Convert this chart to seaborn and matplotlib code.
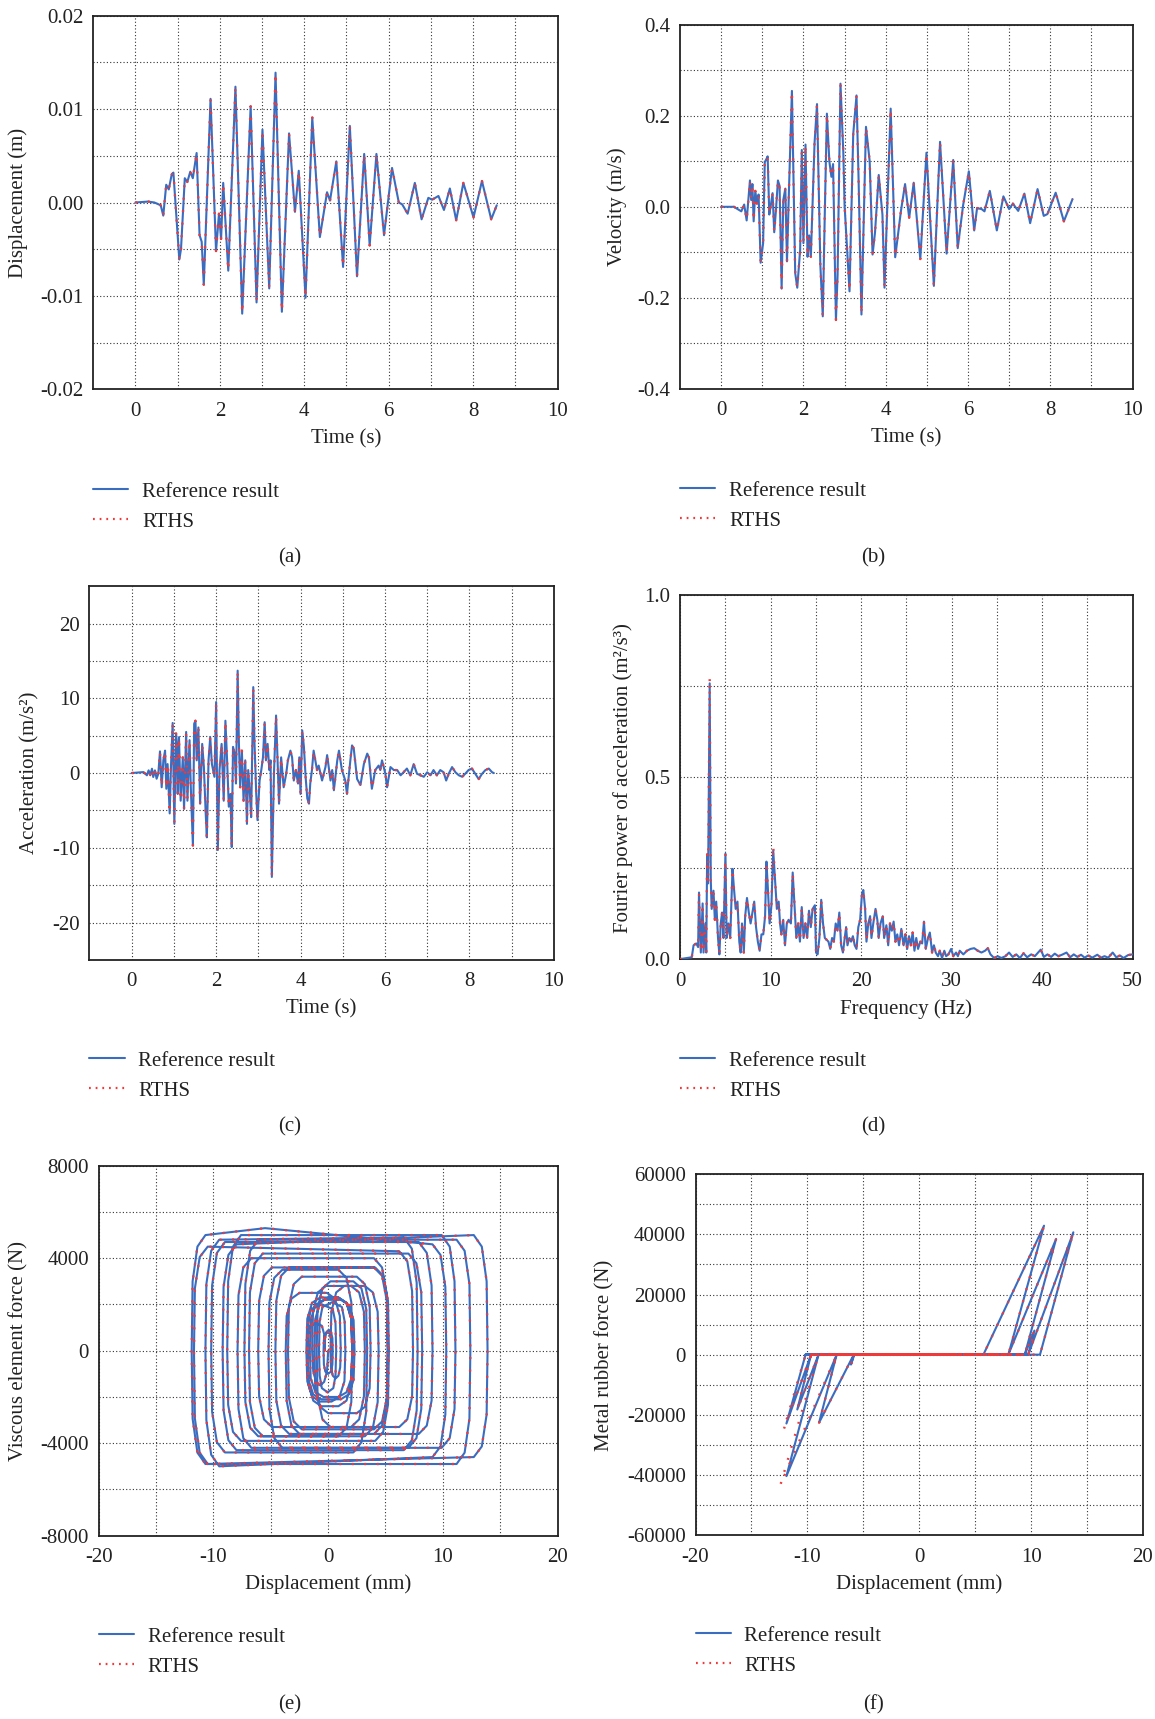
import matplotlib
matplotlib.use("Agg")
import matplotlib.pyplot as plt
from matplotlib.lines import Line2D
import pandas as pd
import seaborn as sns

# ---------------- data ----------------
# (a) displacement history: (time s, displacement m)
disp = [
    (0.00, 0.0), (0.30, 0.0001), (0.45, 0.0), (0.60, -0.0003), (0.66, -0.0014),
    (0.73, 0.0019), (0.79, 0.0014), (0.86, 0.0030), (0.90, 0.0032), (1.04, -0.0061),
    (1.08, -0.0050), (1.17, 0.0026), (1.23, 0.0022), (1.30, 0.0033), (1.36, 0.0026),
    (1.45, 0.0053), (1.52, -0.0035), (1.57, -0.0042), (1.62, -0.0088), (1.78, 0.0111),
    (1.91, -0.0052), (1.98, -0.0012), (2.03, -0.0039), (2.08, 0.0021), (2.20, -0.0073),
    (2.37, 0.0124), (2.53, -0.0119), (2.73, 0.0103), (2.87, -0.0107), (3.01, 0.0078),
    (3.17, -0.0092), (3.32, 0.0139), (3.47, -0.0117), (3.64, 0.0074), (3.78, -0.0010),
    (3.87, 0.0034), (4.03, -0.0102), (4.19, 0.0091), (4.37, -0.0037), (4.54, 0.0011),
    (4.61, 0.0002), (4.76, 0.0044), (4.92, -0.0069), (5.08, 0.0082), (5.25, -0.0079),
    (5.42, 0.0052), (5.55, -0.0046), (5.71, 0.0052), (5.89, -0.0035), (6.08, 0.0037),
    (6.24, 0.0000), (6.32, -0.0002), (6.45, -0.0012), (6.62, 0.0021), (6.78, -0.0018),
    (6.94, 0.0005), (7.03, 0.0003), (7.18, 0.0007), (7.31, -0.0008), (7.45, 0.0015),
    (7.60, -0.0019), (7.77, 0.0021), (8.01, -0.0016), (8.21, 0.0023), (8.43, -0.0018),
    (8.56, -0.0003),
]

# (b) velocity history: (time s, velocity m/s)
vel = [
    (0.00, 0.000), (0.31, 0.000), (0.40, -0.005), (0.49, -0.010), (0.56, 0.005),
    (0.62, -0.030), (0.70, 0.058), (0.73, 0.015), (0.76, 0.050), (0.79, -0.032),
    (0.83, 0.035), (0.87, 0.007), (0.91, 0.027), (0.96, -0.123), (1.02, -0.080),
    (1.06, 0.098), (1.10, 0.105), (1.13, 0.111), (1.17, -0.017), (1.20, -0.001),
    (1.25, 0.030), (1.29, -0.056), (1.33, -0.010), (1.38, 0.058), (1.42, 0.046),
    (1.47, -0.180), (1.51, 0.015), (1.56, 0.040), (1.60, -0.120), (1.65, 0.042),
    (1.72, 0.255), (1.80, -0.146), (1.85, -0.178), (1.92, -0.095), (1.96, 0.125),
    (2.00, -0.080), (2.05, 0.137), (2.10, -0.110), (2.14, -0.063), (2.18, -0.110),
    (2.27, 0.140), (2.33, 0.226), (2.41, -0.126), (2.47, -0.241), (2.52, -0.010),
    (2.57, 0.205), (2.63, 0.100), (2.68, 0.066), (2.72, 0.094), (2.79, -0.249),
    (2.83, -0.150), (2.90, 0.271), (2.97, 0.117), (3.00, 0.003), (3.12, -0.186),
    (3.21, 0.160), (3.29, 0.245), (3.34, 0.062), (3.41, -0.237), (3.52, 0.176),
    (3.61, 0.100), (3.68, -0.105), (3.74, -0.056), (3.83, 0.070), (3.92, -0.017),
    (3.97, -0.178), (4.12, 0.216), (4.23, -0.111), (4.37, -0.009), (4.47, 0.050),
    (4.57, -0.024), (4.68, 0.053), (4.84, -0.115), (4.99, 0.119), (5.17, -0.174),
    (5.32, 0.143), (5.48, -0.103), (5.64, 0.103), (5.75, -0.091), (5.88, 0.003),
    (6.02, 0.078), (6.15, -0.052), (6.22, -0.003), (6.33, -0.005), (6.40, -0.010),
    (6.53, 0.035), (6.70, -0.052), (6.86, 0.023), (7.00, -0.005), (7.09, 0.007),
    (7.22, -0.009), (7.37, 0.029), (7.51, -0.036), (7.69, 0.039), (7.84, -0.020),
    (7.93, -0.016), (8.13, 0.031), (8.33, -0.032), (8.54, 0.017),
]

# (c) acceleration history: (time s, acceleration m/s^2)
accel = [
    (0.00, 0.0), (0.28, 0.13), (0.36, -0.3), (0.40, 0.36), (0.44, -0.3), (0.48, 0.58),
    (0.51, -0.53), (0.55, 0.36), (0.59, -0.76), (0.63, -0.09), (0.67, 2.9), (0.71, -1.9),
    (0.75, 1.7), (0.79, 3.0), (0.82, -2.1), (0.85, 1.2), (0.90, -5.4), (0.93, 0.8),
    (0.97, 6.7), (1.01, -6.8), (1.05, 5.3), (1.07, 3.9), (1.09, -2.8), (1.12, 4.8),
    (1.16, -3.7), (1.21, 2.1), (1.24, -4.8), (1.29, 5.5), (1.32, -3.7), (1.37, 4.4),
    (1.40, -1.9), (1.45, -9.7), (1.48, 6.6), (1.51, 7.0), (1.54, 1.7), (1.58, 6.1),
    (1.62, -4.1), (1.67, 3.9), (1.71, 0.8), (1.75, -5.0), (1.78, -8.6), (1.82, 1.7),
    (1.86, 4.8), (1.90, 1.2), (1.96, -0.5), (2.00, 9.5), (2.04, -10.3), (2.08, 0.4),
    (2.13, 3.9), (2.18, -3.7), (2.22, 7.0), (2.26, 1.7), (2.30, -4.5), (2.34, -2.8),
    (2.37, -9.9), (2.40, 3.5), (2.44, 2.6), (2.47, -1.4), (2.51, 13.7), (2.54, 3.9),
    (2.57, -1.9), (2.61, 3.0), (2.65, -3.7), (2.69, 1.7), (2.73, -6.8), (2.76, 0.4),
    (2.80, -2.8), (2.83, -5.9), (2.88, 11.5), (2.91, 3.9), (2.95, -2.8), (2.98, -6.3),
    (3.03, -1.0), (3.07, 0.4), (3.11, 2.1), (3.15, 6.8), (3.18, 1.7), (3.22, 3.9),
    (3.26, 0.4), (3.29, 1.7), (3.32, -13.9), (3.37, -0.1), (3.42, 7.7), (3.49, -4.1),
    (3.54, 2.1), (3.60, -1.9), (3.66, -0.1), (3.70, 1.7), (3.76, 3.0), (3.80, 2.1),
    (3.84, -1.0), (3.89, 0.4), (3.94, -1.4), (3.97, 2.1), (4.00, -2.8), (4.04, 5.7),
    (4.08, 3.5), (4.12, -0.5), (4.16, -3.4), (4.20, -4.1), (4.23, -1.4), (4.27, 0.4),
    (4.31, 3.0), (4.35, 1.7), (4.39, 0.4), (4.43, 1.0), (4.51, -1.0), (4.59, 0.8),
    (4.63, 2.4), (4.71, -1.0), (4.75, 0.4), (4.79, -2.3), (4.87, 1.7), (4.91, 3.0),
    (4.98, 0.4), (5.06, -1.0), (5.10, -2.8), (5.18, 1.7), (5.22, 3.7), (5.26, 3.3),
    (5.34, -0.8), (5.42, -1.6), (5.50, 1.2), (5.58, 2.6), (5.62, 2.1), (5.69, -2.1),
    (5.77, 0.4), (5.85, 1.0), (5.89, 0.4), (5.93, 1.7), (6.01, -0.1), (6.05, -1.9),
    (6.13, 0.8), (6.21, 0.4), (6.29, 0.4), (6.37, -0.3), (6.44, 0.1), (6.52, 0.6),
    (6.60, -0.3), (6.68, 1.2), (6.76, -0.1), (6.84, -0.3), (6.92, -0.5), (7.00, 0.1),
    (7.08, -0.3), (7.15, 0.4), (7.23, -0.3), (7.31, 0.4), (7.39, 0.1), (7.45, -1.0),
    (7.51, -0.1), (7.59, 0.8), (7.67, 0.1), (7.75, -0.3), (7.83, -0.5), (7.90, -0.1),
    (7.98, 0.4), (8.06, 0.6), (8.14, -0.1), (8.22, -0.8), (8.30, -0.1), (8.38, 0.4),
    (8.46, 0.6), (8.54, 0.1), (8.58, 0.0),
]

# (d) Fourier power spectrum of acceleration: (frequency Hz, power m^2/s^3)
spec = [
    (0.0, 0.0), (0.5, 0.002), (1.0, 0.004), (1.3, 0.005), (1.5, 0.038), (1.8, 0.043),
    (2.0, 0.033), (2.1, 0.183), (2.3, 0.018), (2.5, 0.153), (2.6, 0.018), (2.8, 0.098),
    (2.9, 0.018), (3.0, 0.288), (3.1, 0.208), (3.28, 0.758), (3.4, 0.218), (3.5, 0.138),
    (3.7, 0.188), (3.85, 0.108), (4.0, 0.158), (4.2, 0.058), (4.35, 0.013), (4.5, 0.098),
    (4.65, 0.128), (4.8, 0.058), (5.02, 0.290), (5.15, 0.058), (5.35, 0.098), (5.55, 0.058),
    (5.8, 0.248), (5.95, 0.198), (6.15, 0.138), (6.35, 0.158), (6.55, 0.048), (6.7, 0.018),
    (6.85, 0.098), (7.05, 0.018), (7.2, 0.118), (7.4, 0.168), (7.6, 0.128), (7.8, 0.098),
    (8.0, 0.128), (8.2, 0.158), (8.4, 0.088), (8.6, 0.048), (8.8, 0.023), (9.0, 0.068),
    (9.2, 0.068), (9.4, 0.118), (9.55, 0.268), (9.7, 0.198), (9.9, 0.098), (10.1, 0.148),
    (10.3, 0.298), (10.55, 0.198), (10.7, 0.138), (10.9, 0.158), (11.05, 0.098), (11.2, 0.068),
    (11.4, 0.108), (11.6, 0.038), (11.8, 0.098), (12.0, 0.108), (12.25, 0.098), (12.45, 0.238),
    (12.65, 0.148), (12.85, 0.058), (13.05, 0.098), (13.25, 0.048), (13.45, 0.143), (13.65, 0.058),
    (13.85, 0.098), (14.05, 0.058), (14.25, 0.133), (14.45, 0.088), (14.65, 0.138), (14.9, 0.148),
    (15.03, 0.018), (15.2, 0.013), (15.4, 0.058), (15.6, 0.163), (15.8, 0.098), (16.0, 0.058),
    (16.2, 0.053), (16.4, 0.048), (16.6, 0.028), (16.8, 0.058), (17.0, 0.048), (17.2, 0.098),
    (17.4, 0.078), (17.6, 0.128), (17.8, 0.038), (18.0, 0.018), (18.2, 0.058), (18.35, 0.088),
    (18.5, 0.038), (18.7, 0.058), (18.9, 0.048), (19.1, 0.063), (19.3, 0.038), (19.5, 0.028),
    (19.7, 0.088), (19.9, 0.108), (20.1, 0.178), (20.25, 0.190), (20.45, 0.138), (20.6, 0.048),
    (20.8, 0.098), (21.0, 0.118), (21.15, 0.058), (21.35, 0.098), (21.6, 0.138), (21.8, 0.108),
    (21.95, 0.058), (22.15, 0.098), (22.4, 0.118), (22.55, 0.058), (22.8, 0.093), (23.0, 0.038),
    (23.2, 0.098), (23.4, 0.078), (23.6, 0.103), (23.8, 0.048), (24.0, 0.068), (24.2, 0.038),
    (24.45, 0.083), (24.7, 0.038), (24.9, 0.068), (25.1, 0.028), (25.3, 0.063), (25.5, 0.038),
    (25.7, 0.073), (25.9, 0.023), (26.1, 0.058), (26.3, 0.028), (26.55, 0.048), (26.75, 0.043),
    (26.95, 0.103), (27.15, 0.028), (27.4, 0.058), (27.6, 0.073), (27.85, 0.018), (28.05, 0.038),
    (28.25, 0.018), (28.5, 0.008), (28.7, 0.023), (28.95, 0.003), (29.2, 0.023), (29.4, 0.008),
    (29.65, 0.013), (29.95, 0.028), (30.2, 0.008), (30.5, 0.018), (30.7, 0.008), (30.9, 0.023),
    (31.3, 0.013), (31.7, 0.023), (32.1, 0.028), (32.5, 0.030), (32.9, 0.023), (33.3, 0.018),
    (33.7, 0.023), (34.0, 0.030), (34.3, 0.013), (34.7, 0.003), (35.1, 0.008), (35.5, 0.003),
    (35.95, 0.008), (36.35, 0.018), (36.75, 0.006), (37.15, 0.013), (37.55, 0.003), (37.95, 0.016),
    (38.35, 0.005), (38.8, 0.013), (39.2, 0.008), (39.85, 0.026), (40.2, 0.006), (40.6, 0.013),
    (41.0, 0.006), (41.4, 0.015), (41.8, 0.008), (42.2, 0.012), (42.7, 0.018), (43.1, 0.005),
    (43.5, 0.013), (43.9, 0.006), (44.3, 0.012), (44.7, 0.004), (45.1, 0.010), (45.55, 0.004),
    (46.1, 0.012), (46.5, 0.004), (46.9, 0.008), (47.3, 0.004), (47.8, 0.018), (48.2, 0.005),
    (48.6, 0.010), (49.0, 0.003), (49.5, 0.011), (50.0, 0.013),
]
# RTHS spectrum values where they depart from the reference curve
rths_spec_peaks = {3.28: 0.775, 10.3: 0.312}

# (e) viscous element force path, one row per half cycle: (displacement mm, force N)
visc_path = [
    (0.0, 0),
    (-0.1, -900), (-0.35, -1350), (-0.7, -1500), (-1.05, -1350), (-1.3, -900), (-1.4, 0),
    (-1.32, 1680), (-0.9, 2520), (-0.2, 2800), (2.0, 2800), (2.7, 2520), (3.12, 1680), (3.2, 0),
    (3.12, -1980), (2.7, -2970), (2.0, -3300), (-4.9, -3300), (-5.6, -2970), (-6.02, -1980), (-6.1, 0),
    (-6.02, 2160), (-5.6, 3240), (-4.9, 3600), (4.1, 3600), (4.8, 3240), (5.22, 2160), (5.3, 0),
    (5.22, -2340), (4.8, -3510), (4.1, -3900), (-7.6, -3900), (-8.3, -3510), (-8.72, -2340), (-8.8, 0),
    (-8.72, 3000), (-8.3, 4500), (-7.6, 5000), (9.9, 5000), (10.6, 4500), (11.02, 3000), (11.1, 0),
    (11.02, -2520), (10.6, -3780), (9.9, -4200), (-4.0, -4200), (-4.7, -3780), (-5.12, -2520), (-5.2, 0),
    (-5.12, 2100), (-4.7, 3150), (-4.0, 3500), (0.9, 3500), (1.6, 3150), (2.02, 2100), (2.1, 0),
    (2.02, -2220), (1.6, -3330), (0.9, -3700), (-6.1, -3700), (-6.8, -3330), (-7.22, -2220), (-7.3, 0),
    (-7.22, 2880), (-6.8, 4320), (-6.1, 4800), (11.2, 4800), (11.9, 4320), (12.32, 2880), (12.4, 0),
    (12.32, -2940), (11.9, -4410), (11.2, -4900), (-10.7, -4900), (-11.4, -4410), (-11.82, -2940), (-11.9, 0),
    (-11.82, 3000), (-11.4, 4500), (-10.7, 5000), (-5.5, 5300), (9.1, 4600), (9.8, 4140), (10.22, 2760), (10.3, 0),
    (10.22, -2760), (9.8, -4140), (9.1, -4600), (-9.5, -5000), (-10.2, -4500), (-10.62, -3000), (-10.7, 0),
    (-10.62, 2880), (-10.2, 4320), (-9.5, 4800), (6.6, 4900), (7.3, 4410), (7.72, 2940), (7.8, 0),
    (7.72, -2580), (7.3, -3870), (6.6, -4300), (-8.0, -4300), (-8.7, -3870), (-9.12, -2580), (-9.2, 0),
    (-9.12, 2760), (-8.7, 4140), (-8.0, 4600), (12.7, 5000), (13.4, 4500), (13.82, 3000), (13.9, 0),
    (13.82, -2760), (13.4, -4140), (12.7, -4600), (-10.5, -4900), (-11.2, -4410), (-11.62, -2940), (-11.7, 0),
    (-11.62, 2700), (-11.2, 4050), (-10.5, 4500), (6.2, 4300), (6.9, 3870), (7.32, 2580), (7.4, 0),
    (7.32, -1980), (6.9, -2970), (6.2, -3300), (0.2, -3300), (-0.5, -2970), (-0.92, -1980), (-1.0, 0),
    (-0.92, 1800), (-0.5, 2700), (0.2, 3000), (2.2, 3000), (2.9, 2700), (3.32, 1800), (3.4, 0),
    (3.32, -2640), (2.9, -3960), (2.2, -4400), (-9.0, -4400), (-9.7, -3960), (-10.12, -2640), (-10.2, 0),
    (-10.12, 2820), (-9.7, 4230), (-9.0, 4700), (7.9, 4700), (8.6, 4230), (9.02, 2820), (9.1, 0),
    (9.02, -2160), (8.6, -3240), (7.9, -3600), (-2.5, -3600), (-3.2, -3240), (-3.62, -2160), (-3.7, 0),
    (-3.62, 1500), (-3.2, 2250), (-2.5, 2500), (-0.1, 2500), (0.6, 2250), (1.02, 1500), (1.1, 0),
    (1.05, -720), (0.9, -1080), (0.65, -1200), (0.4, -1080), (0.25, -720), (0.2, 0),
    (0.28, 1680), (0.7, 2520), (1.4, 2800), (3.2, 2800), (3.9, 2520), (4.32, 1680), (4.4, 0),
    (4.32, -2220), (3.9, -3330), (3.2, -3700), (-5.7, -3700), (-6.4, -3330), (-6.82, -2220), (-6.9, 0),
    (-6.82, 2520), (-6.4, 3780), (-5.7, 4200), (7.0, 4200), (7.7, 3780), (8.12, 2520), (8.2, 0),
    (8.12, -2520), (7.7, -3780), (7.0, -4200), (-6.7, -4200), (-7.4, -3780), (-7.82, -2520), (-7.9, 0),
    (-7.82, 2400), (-7.4, 3600), (-6.7, 4000), (4.0, 4000), (4.7, 3600), (5.12, 2400), (5.2, 0),
    (5.12, -2160), (4.7, -3240), (4.0, -3600), (-3.4, -3600), (-4.1, -3240), (-4.52, -2160), (-4.6, 0),
    (-4.52, 2160), (-4.1, 3240), (-3.4, 3600), (4.0, 3600), (4.7, 3240), (5.12, 2160), (5.2, 0),
    (5.12, -2040), (4.7, -3060), (4.0, -3400), (-2.3, -3400), (-3.0, -3060), (-3.42, -2040), (-3.5, 0),
    (-3.42, 1920), (-3.0, 2880), (-2.3, 3200), (2.5, 3200), (3.2, 2880), (3.62, 1920), (3.7, 0),
    (3.62, -1620), (3.2, -2430), (2.5, -2700), (0.0, -2700), (-0.7, -2430), (-1.12, -1620), (-1.2, 0),
    (-1.12, 1380), (-0.7, 2070), (0.0, 2300), (0.9, 2300), (1.6, 2070), (2.02, 1380), (2.1, 0),
    (2.02, -1440), (1.6, -2160), (0.9, -2400), (-0.6, -2400), (-1.3, -2160), (-1.72, -1440), (-1.8, 0),
    (-1.74, 1200), (-1.5, 1800), (-0.55, 2000), (0.4, 1800), (0.64, 1200), (0.7, 0),
    (0.64, -1080), (0.45, -1620), (-0.05, -1800), (-0.55, -1620), (-0.74, -1080), (-0.8, 0),
    (-0.74, 1260), (-0.5, 1890), (0.35, 2100), (1.2, 1890), (1.44, 1260), (1.5, 0),
    (1.42, -1320), (1.0, -1980), (0.3, -2200), (-0.7, -2200), (-1.4, -1980), (-1.82, -1320), (-1.9, 0),
    (-1.82, 1380), (-1.4, 2070), (-0.7, 2300), (0.9, 2300), (1.6, 2070), (2.02, 1380), (2.1, 0),
    (2.02, -1200), (1.6, -1800), (0.9, -2000), (-0.4, -2000), (-1.1, -1800), (-1.52, -1200), (-1.6, 0),
    (-1.52, 1320), (-1.1, 1980), (-0.4, 2200), (1.1, 2200), (1.8, 1980), (2.22, 1320), (2.3, 0),
    (2.22, -1260), (1.8, -1890), (1.1, -2100), (-0.6, -2100), (-1.3, -1890), (-1.72, -1260), (-1.8, 0),
    (-1.75, 720), (-1.55, 1080), (-1.05, 1200), (-0.55, 1080), (-0.35, 720), (-0.3, 0),
    (-0.27, 540), (-0.15, 810), (0.05, 900), (0.25, 810), (0.37, 540), (0.4, 0),
    (0.37, -600), (0.25, -900), (0.0, -1000), (-0.25, -900), (-0.37, -600), (-0.4, 0),
    (-0.37, 480), (-0.25, 720), (-0.05, 800), (0.15, 720), (0.27, 480), (0.3, 0),
]

# (f) metal rubber force path: (displacement mm, force N)
mr_path = [
    (0.0, 0), (-1.4, 0), (3.2, 0), (-5.8, 0), (-6.1, -3300), (-5.85, 0), (5.3, 0),
    (-5.85, 0), (-8.95, -22600), (-7.38, 0), (5.74, 0), (11.16, 42900), (7.97, 0),
    (-5.2, 0), (2.1, 0), (-7.38, 0), (7.97, 0), (12.24, 38500), (9.44, 0),
    (-7.38, 0), (-11.87, -40400), (-9.0, 0), (9.44, 0), (10.3, 8000), (9.75, 0),
    (-9.0, 0), (-10.9, -18250), (-9.67, 0), (7.8, 0), (-9.2, 0), (9.75, 0),
    (13.78, 40700), (10.8, 0), (-9.67, 0), (-11.87, -22900), (-10.16, 0),
    (7.4, 0), (-1.0, 0), (3.4, 0), (-10.16, 0), (9.1, 0), (-6.9, 0), (8.2, 0),
    (-7.9, 0), (5.2, 0), (-4.6, 0), (0.0, 0),
]
# RTHS turning points where they depart from the reference path
rths_mr_peaks = {(-11.87, -40400): (-12.4, -43250), (-11.87, -22900): (-12.1, -24750)}

# ---------------- style ----------------
sns.set_style("white")
plt.rcParams["font.family"] = ["Liberation Serif", "DejaVu Serif"]
plt.rcParams["axes.unicode_minus"] = False

BLUE = "#3a6cc0"
RED = "#f03a3a"
TXT = "#222222"
FS = 15
W, H = 1155, 1719
DOTS = (0, (0.8, 4.5))

fig = plt.figure(figsize=(W / 100, H / 100), dpi=100)


def add_axes_px(l, t, r, b):
    return fig.add_axes([l / W, 1 - b / H, (r - l) / W, (b - t) / H])


def draw_pair(ax, ref_pts, rths_pts):
    ref = pd.DataFrame(ref_pts, columns=["x", "y"])
    rt = pd.DataFrame(rths_pts, columns=["x", "y"])
    sns.lineplot(data=ref, x="x", y="y", ax=ax, sort=False, estimator=None,
                 color=BLUE, lw=1.5, zorder=3)
    sns.lineplot(data=rt, x="x", y="y", ax=ax, sort=False, estimator=None,
                 color=RED, lw=1.7, linestyle=DOTS, zorder=4)


def style(ax, xlim, ylim, xt, xtl, yt, ytl):
    ax.set_xlim(*xlim)
    ax.set_ylim(*ylim)
    ax.set_xticks(xt)
    ax.set_xticklabels(xtl)
    ax.set_yticks(yt)
    ax.set_yticklabels(ytl)
    ax.grid(True, linestyle=(0, (1, 2)), color="#333333", lw=0.8)
    ax.set_axisbelow(True)
    for s in ax.spines.values():
        s.set_color(TXT)
        s.set_linewidth(1.3)
    ax.tick_params(direction="in", length=4, width=1, labelsize=FS, pad=7,
                   colors=TXT)
    ax.tick_params(axis="x", pad=9)


def labels(ax, xl, yl, xpos, ypos):
    ax.set_xlabel(xl, fontsize=FS, va="center", ha="center", color=TXT)
    ax.xaxis.set_label_coords(xpos[0] / W, 1 - xpos[1] / H, transform=fig.transFigure)
    ax.set_ylabel(yl, fontsize=FS, va="center", ha="center", color=TXT)
    ax.yaxis.set_label_coords(ypos[0] / W, 1 - ypos[1] / H, transform=fig.transFigure)


def legend(ax, left, top):
    handles = [Line2D([], [], color=BLUE, lw=1.5),
               Line2D([], [], color=RED, lw=1.6, linestyle=(0, (0.8, 2.2)))]
    ax.legend(handles, ["Reference result", "RTHS"], loc="upper left",
              bbox_to_anchor=(left / W, 1 - top / H), bbox_transform=fig.transFigure,
              frameon=False, fontsize=FS, handlelength=1.7, handletextpad=0.65,
              borderpad=0, borderaxespad=0, labelspacing=0.5, labelcolor=TXT)


def caption(text, x, y):
    fig.text(x / W, 1 - y / H, text, ha="center", va="center", fontsize=FS, color=TXT)


time_ticks = list(range(0, 11))
time_labels = ["0", "", "2", "", "4", "", "6", "", "8", "", "10"]
mm_ticks = [-20, -15, -10, -5, 0, 5, 10, 15, 20]
mm_labels = ["-20", "", "-10", "", "0", "", "10", "", "20"]

# (a) displacement
ax = add_axes_px(93.2, 15.7, 557.5, 389.3)
draw_pair(ax, disp, disp)
style(ax, (-1, 10), (-0.02, 0.02), time_ticks, time_labels,
      [-0.02, -0.015, -0.01, -0.005, 0, 0.005, 0.01, 0.015, 0.02],
      ["-0.02", "", "-0.01", "", "0.00", "", "0.01", "", "0.02"])
labels(ax, "Time (s)", "Displacement (m)", (346, 439), (18.5, 203))
legend(ax, 93, 482)
caption("(a)", 290, 558)

# (b) velocity
ax = add_axes_px(680, 25, 1132.6, 388.6)
draw_pair(ax, vel, vel)
style(ax, (-1, 10), (-0.4, 0.4), time_ticks, time_labels,
      [-0.4, -0.3, -0.2, -0.1, 0, 0.1, 0.2, 0.3, 0.4],
      ["-0.4", "", "-0.2", "", "0.0", "", "0.2", "", "0.4"])
labels(ax, "Time (s)", "Velocity (m/s)", (906, 437.5), (616.7, 207))
legend(ax, 680, 481)
caption("(b)", 873, 558)

# (c) acceleration
ax = add_axes_px(89.5, 586.2, 553.8, 959.9)
draw_pair(ax, accel, accel)
style(ax, (-1, 10), (-25, 25), time_ticks, time_labels,
      [-20, -15, -10, -5, 0, 5, 10, 15, 20],
      ["-20", "", "-10", "", "0", "", "10", "", "20"])
labels(ax, "Time (s)", "Acceleration (m/s²)", (321.6, 1009), (29.6, 773))
legend(ax, 89.5, 1051)
caption("(c)", 290, 1127)

# (d) Fourier power spectrum
rths_spec = [(f, rths_spec_peaks.get(f, p)) for f, p in spec]
ax = add_axes_px(680, 595.3, 1132.6, 959.1)
draw_pair(ax, spec, rths_spec)
style(ax, (0, 50), (0, 1.0), [0, 5, 10, 15, 20, 25, 30, 35, 40, 45, 50],
      ["0", "", "10", "", "20", "", "30", "", "40", "", "50"],
      [0, 0.25, 0.5, 0.75, 1.0], ["0.0", "", "0.5", "", "1.0"])
labels(ax, "Frequency (Hz)", "Fourier power of acceleration (m²/s³)",
       (906, 1009), (623.3, 778))
legend(ax, 680, 1051)
caption("(d)", 873, 1127)

# (e) viscous element hysteresis
ax = add_axes_px(98.8, 1165.7, 557.5, 1535.7)
draw_pair(ax, visc_path, visc_path)
style(ax, (-20, 20), (-8000, 8000), mm_ticks, mm_labels,
      [-8000, -6000, -4000, -2000, 0, 2000, 4000, 6000, 8000],
      ["-8000", "", "-4000", "", "0", "", "4000", "", "8000"])
labels(ax, "Displacement (mm)", "Viscous element force (N)", (328, 1584.5), (18.5, 1351))
legend(ax, 98.8, 1627)
caption("(e)", 290, 1705)

# (f) metal rubber hysteresis
rths_mr = [rths_mr_peaks.get(p, p) for p in mr_path]
ax = add_axes_px(695.5, 1174.3, 1142.9, 1535)
draw_pair(ax, mr_path, rths_mr)
style(ax, (-20, 20), (-60000, 60000), mm_ticks, mm_labels,
      list(range(-60000, 60001, 10000)),
      ["-60000", "", "-40000", "", "-20000", "", "0", "", "20000", "", "40000", "",
       "60000"])
labels(ax, "Displacement (mm)", "Metal rubber force (N)", (919.2, 1584.5), (605, 1355.5))
legend(ax, 695.5, 1626)
caption("(f)", 873, 1705)

fig.savefig("out.png", dpi=100)
